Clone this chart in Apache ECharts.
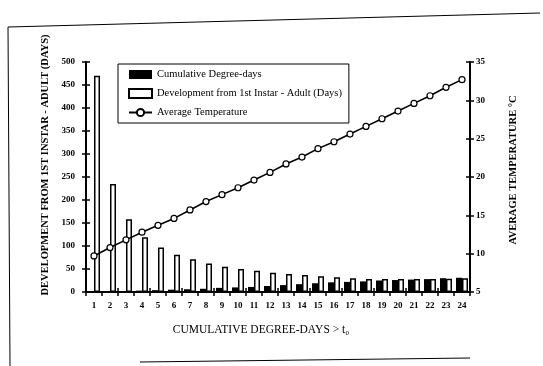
<!DOCTYPE html>
<html><head><meta charset="utf-8">
<script src="https://cdn.jsdelivr.net/npm/echarts@6/dist/echarts.min.js"></script>
<style>html,body{margin:0;padding:0;background:#fff}#c{width:543px;height:366px}</style>
</head><body><div id="c"></div>
<script>
const categories = ['1','2','3','4','5','6','7','8','9','10','11','12','13','14','15','16','17','18','19','20','21','22','23','24'];
const cumulativeDegreeDays = [1,2,2,3,4,5,6,7,9,10,11,13,15,17,19,21,22,23,25,26,27,28,30,31];
const developmentDays = [470,235,158,119,97,81,71,62,55,50,46,42,39,37,34,32,30,28,28,28,28,28,29,30];
const averageTemperature = [9.7,10.8,11.8,12.8,13.7,14.6,15.7,16.8,17.7,18.6,19.6,20.6,21.7,22.6,23.7,24.6,25.6,26.6,27.6,28.6,29.6,30.6,31.7,32.7];
const leftAxisTitle = 'DEVELOPMENT FROM 1ST INSTAR - ADULT (DAYS)';
const rightAxisTitle = 'AVERAGE TEMPERATURE °C';
const xAxisTitle = 'CUMULATIVE DEGREE-DAYS > t\u2080';
const seriesNames = ['Cumulative Degree-days','Development from 1st Instar - Adult (Days)','Average Temperature'];

const serif = '"Liberation Serif", "DejaVu Serif", serif';
const chart = echarts.init(document.getElementById('c'), null, {renderer: 'canvas'});
const axisLabelStyle = {fontFamily: serif, fontWeight: 'bold', fontSize: 9, color: '#000'};
const tickStyle = {color: '#000', width: 1.5};
const gridBox = {left: 86, right: 73, top: 62, bottom: 74};

chart.setOption({
  backgroundColor: '#fff',
  animation: false,
  grid: [gridBox, Object.assign({}, gridBox)],
  legend: {
    orient: 'vertical', left: 118, top: 64,
    data: [
      {name: seriesNames[0], icon: 'rect'},
      {name: seriesNames[1], icon: 'rect'},
      {name: seriesNames[2]}
    ],
    borderColor: '#000', borderWidth: 1, padding: [5, 7, 5, 10],
    itemWidth: 23, itemHeight: 9, itemGap: 8,
    textStyle: {fontFamily: serif, fontSize: 10.5, color: '#000'}
  },
  xAxis: [{
    type: 'category', data: categories, gridIndex: 0,
    axisLine: {lineStyle: {color: '#000', width: 2}},
    axisTick: {show: true, length: 4, lineStyle: tickStyle},
    axisLabel: Object.assign({margin: 9, interval: 0}, axisLabelStyle),
    name: xAxisTitle, nameLocation: 'middle', nameGap: 32,
    nameTextStyle: {fontFamily: serif, fontSize: 11.5, color: '#000', padding: [0, 34, 0, 0]}
  }, {
    type: 'category', data: categories, gridIndex: 1,
    axisLine: {show: false},
    axisTick: {show: true, inside: true, length: 4, lineStyle: tickStyle},
    axisLabel: {show: false}
  }],
  yAxis: [{
    type: 'value', min: 0, max: 500, interval: 50, position: 'left', gridIndex: 0,
    splitLine: {show: false},
    axisLine: {show: true, lineStyle: {color: '#000', width: 2}},
    axisTick: {show: true, length: 4, lineStyle: tickStyle},
    axisLabel: Object.assign({margin: 11}, axisLabelStyle),
    name: leftAxisTitle, nameLocation: 'middle', nameGap: 34,
    nameTextStyle: {fontFamily: serif, fontWeight: 'bold', fontSize: 10.5, color: '#000', padding: [0, 0, 0, 24]}
  }, {
    type: 'value', min: 5, max: 35, interval: 5, position: 'right', gridIndex: 0,
    splitLine: {show: false},
    axisLine: {show: true, lineStyle: {color: '#000', width: 2}},
    axisTick: {show: true, length: 4, lineStyle: tickStyle},
    axisLabel: Object.assign({margin: 6}, axisLabelStyle),
    name: rightAxisTitle, nameLocation: 'middle', nameGap: 38, nameRotate: 90,
    nameTextStyle: {fontFamily: serif, fontWeight: 'bold', fontSize: 10.5, color: '#000', padding: [0, 0, 0, 14]}
  }, {
    type: 'value', min: 0, max: 500, interval: 50, position: 'left', gridIndex: 1,
    splitLine: {show: false}, axisLine: {show: false},
    axisTick: {show: true, inside: true, length: 4, lineStyle: tickStyle},
    axisLabel: {show: false}
  }, {
    type: 'value', min: 5, max: 35, interval: 5, position: 'right', gridIndex: 1,
    splitLine: {show: false}, axisLine: {show: false},
    axisTick: {show: true, inside: true, length: 4, lineStyle: tickStyle},
    axisLabel: {show: false}
  }],
  series: [{
    name: seriesNames[0], type: 'bar', data: cumulativeDegreeDays,
    barWidth: 6, barGap: '0%',
    itemStyle: {color: '#000'}
  }, {
    name: seriesNames[1], type: 'bar', data: developmentDays,
    barWidth: 6, barGap: '0%',
    itemStyle: {color: '#fff', borderColor: '#000', borderWidth: 1.5}
  }, {
    name: seriesNames[2], type: 'line', yAxisIndex: 1, data: averageTemperature,
    symbol: 'circle', symbolSize: 6, z: 5,
    itemStyle: {color: '#fff', borderColor: '#000', borderWidth: 1.2},
    lineStyle: {color: '#000', width: 1.6}
  }],
  graphic: [{
    type: 'polyline', silent: true,
    shape: {points: [[540, 13], [8, 27], [10, 366]]},
    style: {stroke: '#000', lineWidth: 1, fill: null}
  }, {
    type: 'line', silent: true,
    shape: {x1: 140, y1: 362, x2: 470, y2: 358},
    style: {stroke: '#000', lineWidth: 1}
  }]
});
</script></body></html>
